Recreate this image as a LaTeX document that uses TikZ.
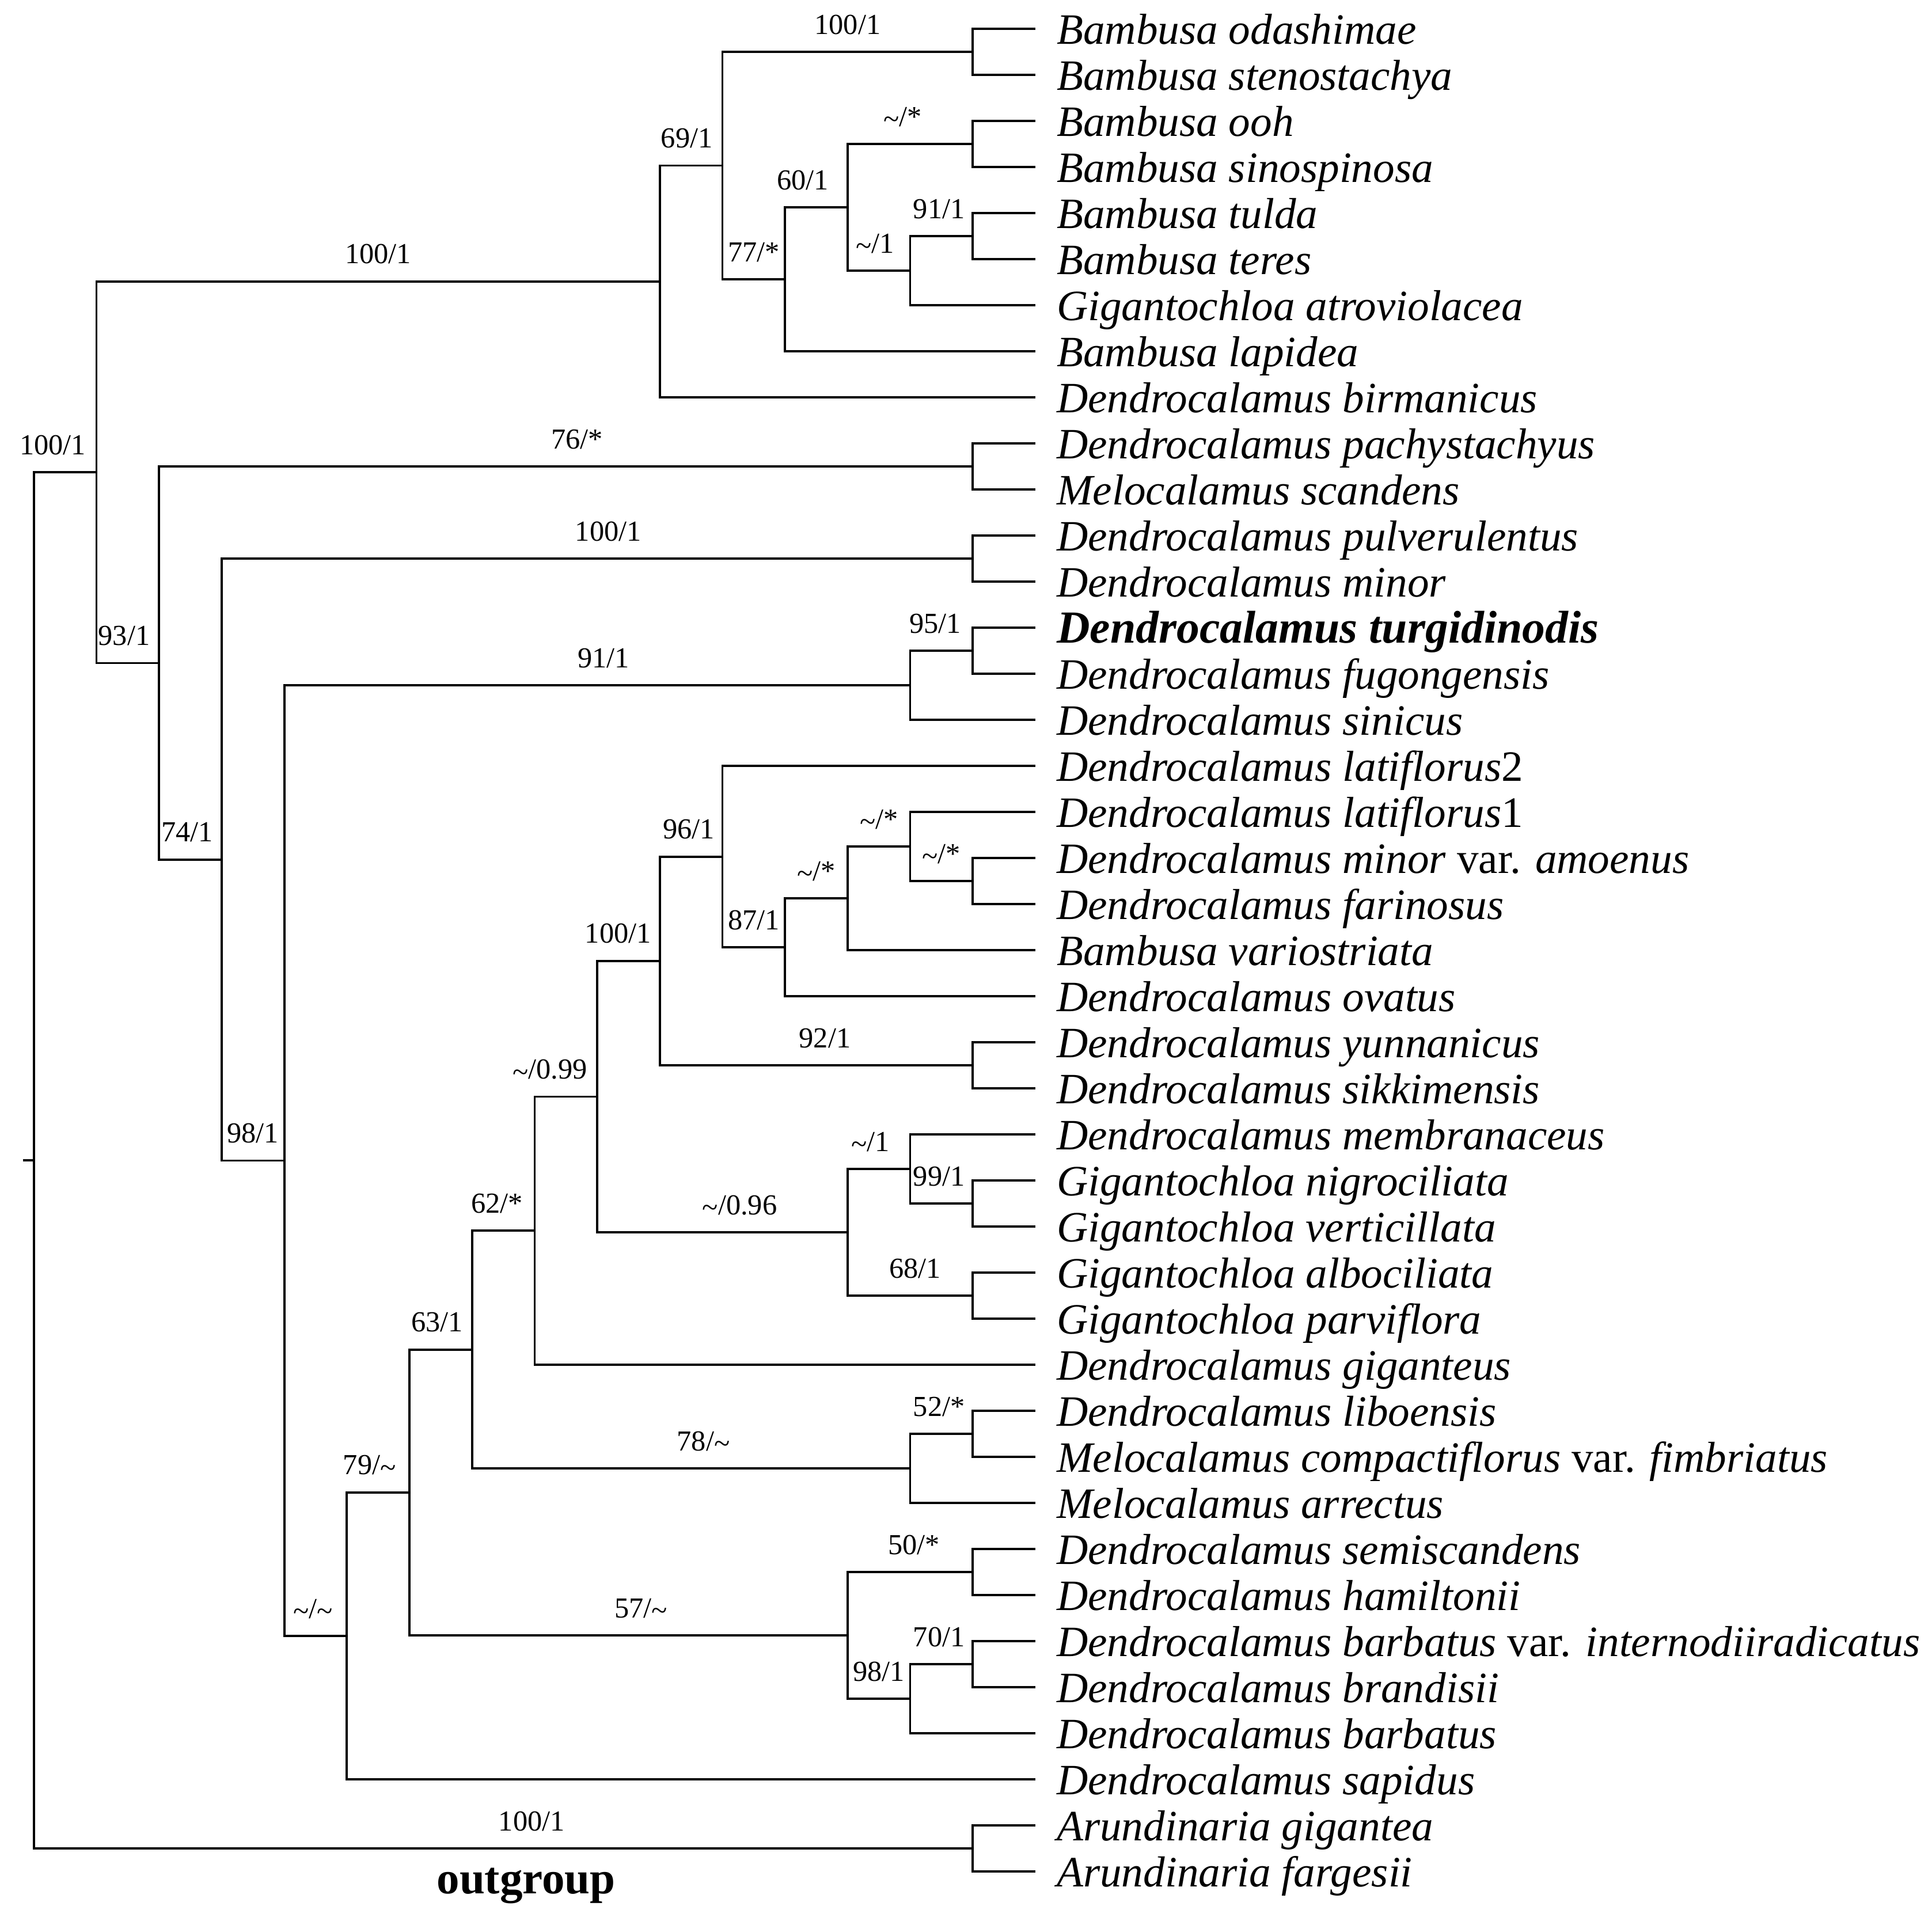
\documentclass[tikz,border=0pt]{standalone}
\usepackage{fontspec}
\setmainfont{Liberation Serif}
\newcommand{\nosupp}{\raisebox{-0.2ex}{\textasciitilde}}

\begin{document}
\begin{tikzpicture}[x=5.08mm, y=-3.739mm, line width=0.5pt,
        taxon/.style={anchor=west, inner xsep=1.65mm, inner ysep=0pt, text height=3.2mm, text depth=0.7mm, font=\fontsize{10}{12}\selectfont\itshape},
        supp/.style={anchor=base, inner sep=0pt, yshift=1.45mm, font=\fontsize{6.7}{8}\selectfont},
        outg/.style={anchor=base, inner sep=0pt, font=\fontsize{10.5}{12}\selectfont\bfseries}]
                \useasboundingbox (-2.75mm,2.34mm) rectangle (154.05mm,-153.86mm);
                
                % taxa, one per row
                \foreach \t [count=\i from 0] in {Bambusa odashimae, Bambusa stenostachya, Bambusa ooh, Bambusa sinospinosa, Bambusa tulda, Bambusa teres, Gigantochloa atroviolacea, Bambusa lapidea, Dendrocalamus birmanicus, Dendrocalamus pachystachyus, Melocalamus scandens, Dendrocalamus pulverulentus, Dendrocalamus minor, {\fontsize{10.6}{12}\selectfont\bfseries Dendrocalamus turgidinodis}, Dendrocalamus fugongensis, Dendrocalamus sinicus, Dendrocalamus latiflorus\textup{2}, Dendrocalamus latiflorus\textup{1}, Dendrocalamus minor \textup{var.} amoenus, Dendrocalamus farinosus, Bambusa variostriata, Dendrocalamus ovatus, Dendrocalamus yunnanicus, Dendrocalamus sikkimensis, Dendrocalamus membranaceus, Gigantochloa nigrociliata, Gigantochloa verticillata, Gigantochloa albociliata, Gigantochloa parviflora, Dendrocalamus giganteus, Dendrocalamus liboensis, Melocalamus compactiflorus \textup{var.} fimbriatus, Melocalamus arrectus, Dendrocalamus semiscandens, Dendrocalamus hamiltonii, Dendrocalamus barbatus \textup{var.} internodiiradicatus, Dendrocalamus brandisii, Dendrocalamus barbatus, Dendrocalamus sapidus, Arundinaria gigantea, Arundinaria fargesii} {
                    \node[taxon] (t\i) at (16,\i) {\t};
                }
                
                % internal nodes: name / depth / row
                \foreach \n/\x/\y in {p1/15/0.5, p2/15/2.5, p3/15/4.5, p4/15/9.5, p5/15/11.5, p6/15/13.5, p7/15/18.5, p8/15/22.5, p9/15/25.5, p10/15/27.5, p11/15/30.5, p12/15/33.5, p13/15/35.5, p14/15/39.5, nF/14/5.25, nE/13/3.875, nD/12/5.4375, nC/11/2.9688, nB/10/5.4844, nJ/14/14.25, nT/14/17.75, nS/13/18.875, nR/12/19.9375, nQ/11/17.9688, nP/10/20.2344, nV/14/24.75, nU/13/26.125, nO/9/23.1797, nN/8/26.0898, nW/14/31.25, nM/7/28.6699, nY/14/36.25, nX/13/34.875, nL/6/31.7725, nK/5/34.8862, nI/4/24.5681, nH/3/18.0341, nG/2/13.767, nA/1/9.6257, root/0/24.5629} {
                    \coordinate (\n) at (\x,\y);
                }
                
                % sister pairs
                \foreach \p/\a/\b in {p1/0/1, p2/2/3, p3/4/5, p4/9/10, p5/11/12, p6/13/14, p7/18/19, p8/22/23, p9/25/26, p10/27/28, p11/30/31, p12/33/34, p13/35/36, p14/39/40} {
                    \draw (t\a.west) -| (\p) |- (t\b.west);
                }
                
                % single taxa
                \foreach \a/\b in {nF/6, nD/7, nB/8, nJ/15, nQ/16, nT/17, nS/20, nR/21, nV/24, nN/29, nW/32, nY/37, nK/38} {
                    \draw (\a) |- (t\b.west);
                }
                
                % supported branches
                \foreach \a/\b/\s/\sh [count=\i] in {root/nA/{100/1}/-1.0, root/p14/{100/1}/2.3, nA/nB/{100/1}/0, nA/nG/{93/1}/-0.3, nB/nC/{69/1}/-0.35, nC/p1/{100/1}/0, nC/nD/{77/*}/0, nD/nE/{60/1}/-1.1, nE/p2/{\nosupp/*}/-0.6, nE/nF/{\nosupp/1}/-0.3, nF/p3/{91/1}/-0.2, nG/p4/{76/*}/0.9, nG/nH/{74/1}/-0.25, nH/p5/{100/1}/0.9, nH/nI/{98/1}/0, nI/nJ/{91/1}/0.5, nJ/p6/{95/1}/-0.5, nI/nK/{\nosupp/\nosupp}/-0.2, nK/nL/{79/\nosupp}/-0.7, nL/nM/{63/1}/-0.3, nL/nX/{57/\nosupp}/1.0, nM/nN/{62/*}/-0.5, nM/nW/{78/\nosupp}/1.0, nN/nO/{\nosupp/0.99}/-1.3, nO/nP/{100/1}/-0.85, nO/nU/{\nosupp/0.96}/1.4, nP/nQ/{96/1}/-0.2, nP/p8/{92/1}/0.7, nQ/nR/{87/1}/0, nR/nS/{\nosupp/*}/0, nS/nT/{\nosupp/*}/0, nT/p7/{\nosupp/*}/0, nU/nV/{\nosupp/1}/-0.7, nV/p9/{99/1}/-0.2, nU/p10/{68/1}/0.4, nW/p11/{52/*}/-0.2, nX/p12/{50/*}/0.3, nX/nY/{98/1}/0, nY/p13/{70/1}/-0.2} {
                    \draw (\a) |- (\b) node[supp, pos=.75, xshift=\sh mm] (s\i) {\s};
                }
                
                % root stub
                \coordinate (stub) at ([xshift=-0.9mm]root);
                \draw (stub) -- (root);
                
                \node[outg] (og) at (7.864,40.48) {outgroup};
            \end{tikzpicture}
\end{document}
